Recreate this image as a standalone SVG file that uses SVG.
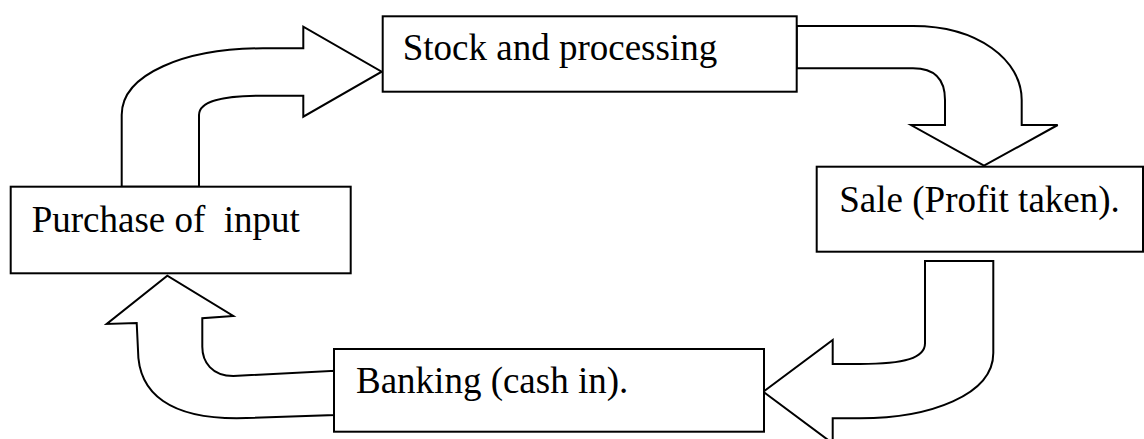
<svg xmlns="http://www.w3.org/2000/svg" width="1144" height="439" viewBox="0 0 1144 439">
  <style>
    .box { fill: #ffffff; stroke: #000000; stroke-width: 2; }
    .arrow { fill: #ffffff; stroke: #000000; stroke-width: 2; stroke-linejoin: miter; }
    .label { font-family: "Liberation Serif", "Times New Roman", serif; font-size: 37px; fill: #000000; }
  </style>
  <rect width="1144" height="439" fill="#ffffff"/>

  <!-- curved block arrows of the cycle -->
  <g id="connectors">
    <!-- purchase -> stock -->
    <path class="arrow" d="M 121.7 186.7 L 121.7 115 C 121.7 74 185 48.3 263 48.3 L 303.3 48.3 L 303.3 26.7 L 381.7 71.7 L 303.3 116.7 L 303.3 95.7 L 263 95.7 C 222 95.7 199 101 199 115 L 199 186.7 Z"/>
    <!-- stock -> sale -->
    <path class="arrow" d="M 796.7 26 L 913 26 C 978 26 1021.7 60 1021.7 100 L 1021.7 125 L 1057.7 125 L 984 165.7 L 911 125 L 945 125 L 945 100 C 945 80 935 68.3 913 68.3 L 796.7 68.3 Z"/>
    <!-- sale -> banking -->
    <path class="arrow" d="M 925 261 L 993.3 261 L 993.3 353 C 993.3 395 930 418.3 860 418.3 L 832.7 418.3 L 832.7 443.4 L 763.3 391.7 L 832.7 340 L 832.7 364 L 860 364 C 905 364 925 358 925 343.3 Z"/>
    <!-- banking -> purchase -->
    <path class="arrow" d="M 136.7 323 L 138 350 C 138 395 172 418.3 236.7 418.3 L 335 415 L 335 370.7 L 233.3 376 C 212 376 202.3 362 202.3 346.7 L 202.3 318.3 L 233.3 316 L 167.3 275.7 L 106.7 324 Z"/>
  </g>

  <g id="node-stock">
    <rect class="box" x="382.7" y="16.3" width="414" height="75.4"/>
    <text class="label" x="402.7" y="60">Stock and processing</text>
  </g>

  <g id="node-sale">
    <rect class="box" x="816.7" y="166.7" width="326.3" height="85"/>
    <text class="label" x="839.3" y="211.7">Sale (Profit taken).</text>
  </g>

  <g id="node-banking">
    <rect class="box" x="334" y="349" width="430" height="82.7"/>
    <text class="label" x="356" y="393.3">Banking (cash in).</text>
  </g>

  <g id="node-purchase">
    <rect class="box" x="10.7" y="186.7" width="340" height="86.6"/>
    <text class="label" x="31.7" y="231.7" xml:space="preserve">Purchase of  input</text>
  </g>
</svg>
